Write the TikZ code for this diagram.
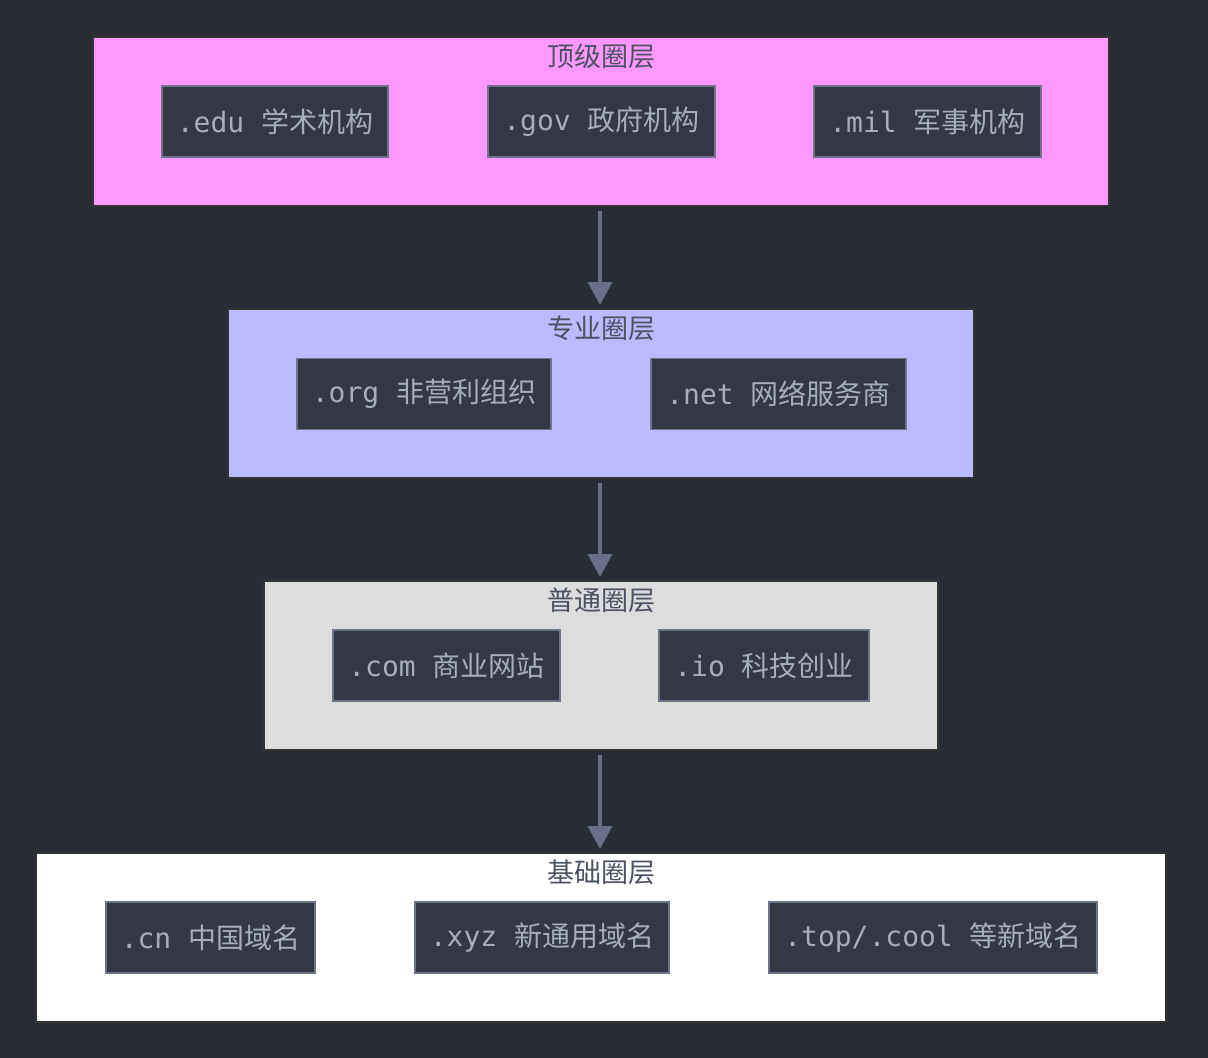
\documentclass[tikz,border=0pt]{standalone}
\usepackage{fontspec}
\setmonofont{DejaVu Sans Mono}
\newfontfamily\cjk{Noto Sans CJK SC}
\usetikzlibrary{arrows.meta}
\definecolor{bgdark}{HTML}{282C34}
\definecolor{boxfill}{HTML}{333844}
\definecolor{boxline}{HTML}{6C7489}
\definecolor{boxtext}{HTML}{A6AEB9}
\definecolor{titletext}{HTML}{4B5262}
\definecolor{arrowcol}{HTML}{67708A}
\definecolor{ringtop}{HTML}{FF99FF}
\definecolor{ringpro}{HTML}{BBBBFF}
\definecolor{ringgen}{HTML}{DDDDDD}
\definecolor{ringbase}{HTML}{FFFFFF}
\newcommand{\dom}[2]{{\ttfamily #1\ }{\cjk #2}}
\tikzset{
  ring/.style={draw=black!80, line width=2pt, inner sep=0pt, minimum height=169pt},
  ringtitle/.style={text=titletext, font=\cjk\fontsize{27}{30}\selectfont, inner sep=0pt},
  dombox/.style={draw=boxline, fill=boxfill, line width=1.6pt, text=boxtext, inner sep=0pt,
    minimum height=71pt, font=\fontsize{28}{30}\selectfont},
  link/.style={draw=arrowcol, line width=3.5pt, -{Triangle[width=24pt,length=23pt]}}
}
\begin{document}
\begin{tikzpicture}[x=1pt,y=-1pt]
\fill[bgdark] (0,0) rectangle (1208,1058);
\useasboundingbox (0,0) rectangle (1208,1058);
\node (toplayer) [ring, fill=ringtop, minimum width=1016pt] at (601,121.5) {};
\node (prolayer) [ring, fill=ringpro, minimum width=746pt] at (601,393.5) {};
\node (genlayer) [ring, fill=ringgen, minimum width=674pt] at (601,665.5) {};
\node (baselayer) [ring, fill=ringbase, minimum width=1130pt] at (601,937.5) {};
\node (toptitle) [ringtitle] at (601,56) {顶级圈层};
\node (protitle) [ringtitle] at (601,328) {专业圈层};
\node (gentitle) [ringtitle] at (601,600) {普通圈层};
\node (basetitle) [ringtitle] at (601,872) {基础圈层};
\node (edu) [dombox, minimum width=226pt] at (275,121.5) {\dom{.edu}{学术机构}};
\node (gov) [dombox, minimum width=227pt] at (601.5,121.5) {\dom{.gov}{政府机构}};
\node (mil) [dombox, minimum width=227pt] at (927.5,121.5) {\dom{.mil}{军事机构}};
\node (org) [dombox, minimum width=254pt] at (424,394) {\dom{.org}{非营利组织}};
\node (net) [dombox, minimum width=255pt] at (778.5,394) {\dom{.net}{网络服务商}};
\node (com) [dombox, minimum width=227pt] at (446.5,665.5) {\dom{.com}{商业网站}};
\node (io) [dombox, minimum width=210pt] at (764,665.5) {\dom{.io}{科技创业}};
\node (cn) [dombox, minimum width=209pt] at (210.5,937.5) {\dom{.cn}{中国域名}};
\node (xyz) [dombox, minimum width=254pt] at (542,937.5) {\dom{.xyz}{新通用域名}};
\node (topcool) [dombox, minimum width=328pt] at (933,937.5) {\dom{.top/.cool}{等新域名}};
\draw[link, shorten <=4pt, shorten >=3pt] (600,0 |- toplayer.south) -- (600,0 |- prolayer.north);
\draw[link, shorten <=4pt, shorten >=3pt] (600,0 |- prolayer.south) -- (600,0 |- genlayer.north);
\draw[link, shorten <=4pt, shorten >=3pt] (600,0 |- genlayer.south) -- (600,0 |- baselayer.north);
\end{tikzpicture}
\end{document}
